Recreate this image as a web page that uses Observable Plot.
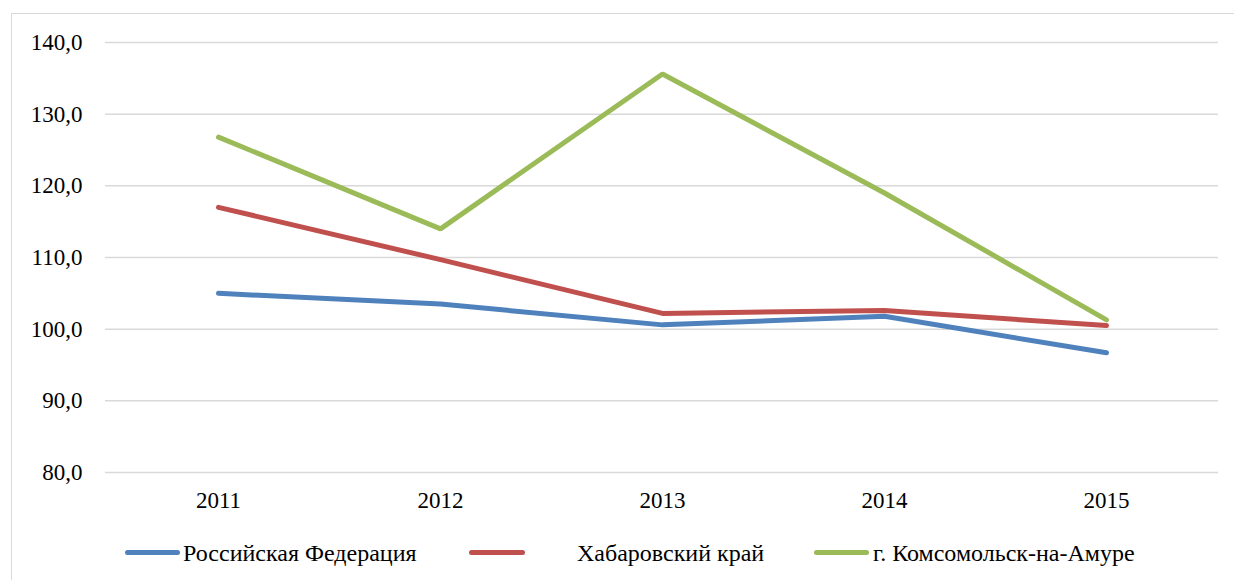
<!DOCTYPE html>
<html>
<head>
<meta charset="utf-8">
<script src="https://cdn.jsdelivr.net/npm/d3@7"></script>
<script src="https://cdn.jsdelivr.net/npm/@observablehq/plot@0.6"></script>
<style>
  html, body { margin: 0; padding: 0; background: #fff; }
  #wrap { position: relative; width: 1234px; height: 580px; overflow: hidden; background: #fff;
          font-family: 'Liberation Serif', serif; }
  #frame { position: absolute; left: 11px; top: 13px; width: 1260px; height: 620px;
           border: 1px solid #d9d9d9; box-sizing: border-box; }
  #chart { position: absolute; left: 0; top: 0; }
  #chart svg, #chart svg text { font-family: 'Liberation Serif', serif !important; }
  .leg-line { position: absolute; height: 5px; border-radius: 3px; }
  .leg-text { position: absolute; font-size: 24px; color: #000; white-space: nowrap; line-height: 1;
              font-family: 'Liberation Serif', serif; }
</style>
</head>
<body>
<div id="wrap">
  <div id="frame"></div>
  <div id="chart"></div>
  <div id="legend"></div>
</div>
<script>
const years = ["2011", "2012", "2013", "2014", "2015"];
const seriesNames = ["Российская Федерация", "Хабаровский край", "г. Комсомольск-на-Амуре"];
const seriesColors = ["#4f81bd", "#c0504d", "#9bbb59"];
const russia = [105.0, 103.5, 100.6, 101.8, 96.7];
const khabarovsk = [117.0, 109.7, 102.2, 102.6, 100.5];
const komsomolsk = [126.8, 114.0, 135.6, 119.0, 101.3];
const yTicks = [80, 90, 100, 110, 120, 130, 140];

const seriesValues = [russia, khabarovsk, komsomolsk];
const data = [];
seriesNames.forEach((name, i) => {
  years.forEach((yr, j) => data.push({ series: name, year: yr, value: seriesValues[i][j] }));
});

const chart = Plot.plot({
  width: 1234,
  height: 520,
  marginLeft: 105,
  marginRight: 16,
  marginTop: 42,
  marginBottom: 48,
  style: { fontSize: "23px", color: "#000", background: "transparent" },
  x: { type: "point", domain: years, padding: 0.5, label: null },
  y: { domain: [80, 140], label: null },
  color: { domain: seriesNames, range: seriesColors },
  marks: [
    Plot.ruleY(yTicks, { stroke: "#d9d9d9", strokeWidth: 1.5 }),
    Plot.axisY({ ticks: yTicks, tickSize: 0, tickPadding: 23, tickFormat: d => d.toFixed(1).replace(".", ","), label: null, fill: "#000" }),
    Plot.axisX({ tickSize: 0, tickPadding: 19, label: null, fill: "#000" }),
    Plot.line(data, { x: "year", y: "value", z: "series", stroke: "series", strokeWidth: 5, strokeLinecap: "round", strokeLinejoin: "miter" })
  ]
});
document.getElementById("chart").appendChild(chart);

// legend (HTML, below the plot area)
const legendLayout = [
  { lineLeft: 125, lineWidth: 55, textLeft: 183 },
  { lineLeft: 469, lineWidth: 56, textLeft: 577 },
  { lineLeft: 814, lineWidth: 55, textLeft: 873 }
];
const legend = document.getElementById("legend");
seriesNames.forEach((name, i) => {
  const L = legendLayout[i];
  const line = document.createElement("div");
  line.className = "leg-line";
  line.style.left = L.lineLeft + "px";
  line.style.width = L.lineWidth + "px";
  line.style.top = "550px";
  line.style.background = seriesColors[i];
  legend.appendChild(line);
  const t = document.createElement("div");
  t.className = "leg-text";
  t.style.left = L.textLeft + "px";
  t.style.top = "541px";
  t.textContent = name;
  legend.appendChild(t);
});
</script>
</body>
</html>
